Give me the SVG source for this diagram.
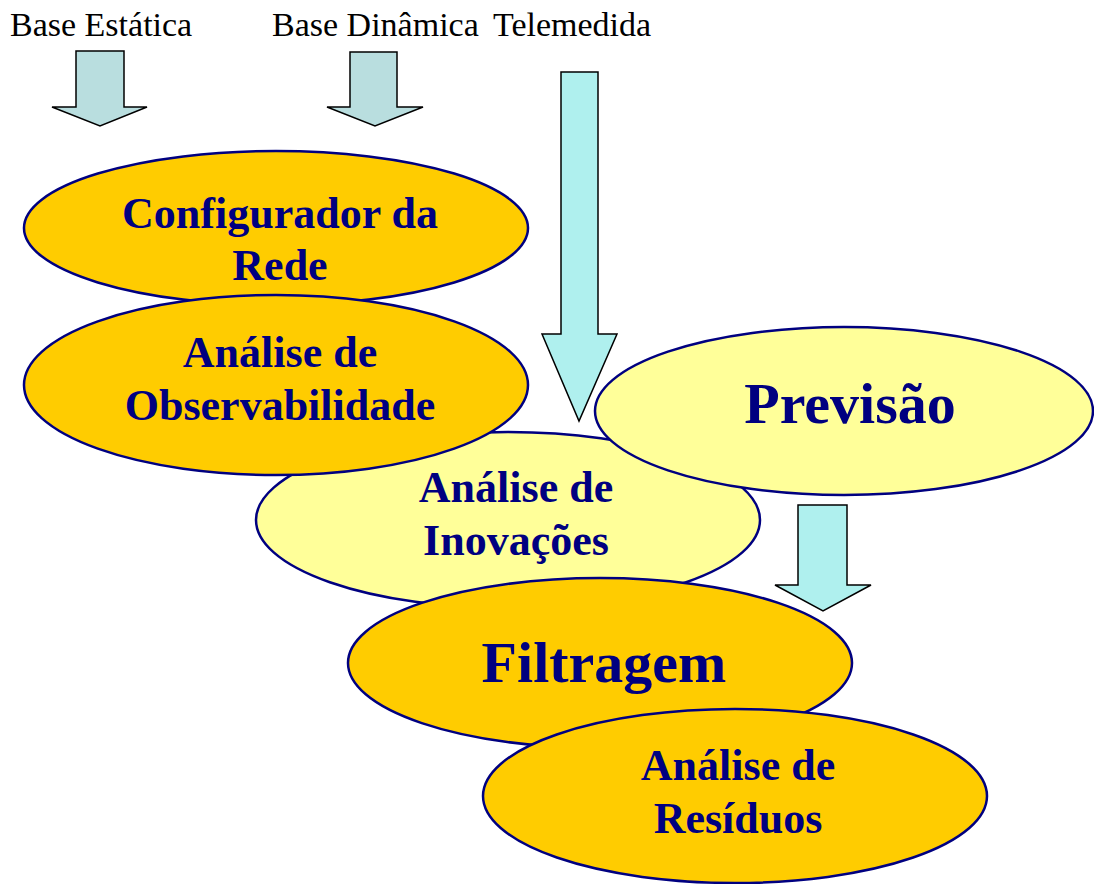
<svg xmlns="http://www.w3.org/2000/svg" width="1094" height="884" viewBox="0 0 1094 884">
<style>
.lbl{font-family:"Liberation Serif","Times New Roman",serif;font-size:34px;fill:#000000}
.ell{stroke:#000080;stroke-width:2.5}
.gold{fill:#FFCC00}
.pale{fill:#FFFF99}
.t{font-family:"Liberation Serif","Times New Roman",serif;font-weight:bold;fill:#000080;text-anchor:middle}
.t44{font-size:44px}
.t58{font-size:58px}
.arr{stroke:#000000;stroke-width:1.5;stroke-linejoin:miter}
.a1{fill:#B9DEDF}
.a2{fill:#AFF0EE}
</style>
<rect width="1094" height="884" fill="#FFFFFF"/>
<g id="labels">
<text class="lbl" x="10" y="36">Base Estática</text>
<text class="lbl" x="272" y="36">Base Dinâmica</text>
<text class="lbl" x="493" y="36">Telemedida</text>
</g>
<g id="connectors">
<polygon class="arr a1" points="76,51 124,51 124,107 147,107 100,126 52,107 76,107"/>
<polygon class="arr a1" points="350,52 397,52 397,107 423,107 375,126 327,107 350,107"/>
<polygon class="arr a2" points="561,72 598,72 598,334 617,334 579,421 542,334 561,334"/>
<polygon class="arr a2" points="798,505 847,505 847,585 871,585 823,611 775,585 798,585"/>
</g>
<g id="node-inovacoes">
<ellipse class="ell pale" cx="508" cy="520" rx="252" ry="88"/>
<text class="t t44" x="516" y="502">Análise de</text>
<text class="t t44" x="516" y="555">Inovações</text>
</g>
<g id="node-configurador">
<ellipse class="ell gold" cx="276" cy="228" rx="252" ry="77"/>
<text class="t t44" x="280" y="228">Configurador da</text>
<text class="t t44" x="280" y="280">Rede</text>
</g>
<g id="node-observabilidade">
<ellipse class="ell gold" cx="276" cy="385" rx="252" ry="90"/>
<text class="t t44" x="280" y="367">Análise de</text>
<text class="t t44" x="280" y="420">Observabilidade</text>
</g>
<g id="node-previsao">
<ellipse class="ell pale" cx="844" cy="411" rx="249" ry="84"/>
<text class="t t58" x="850" y="423">Previsão</text>
</g>
<g id="node-filtragem">
<ellipse class="ell gold" cx="600" cy="663" rx="252" ry="85"/>
<text class="t t58" x="604" y="682">Filtragem</text>
</g>
<g id="node-residuos">
<ellipse class="ell gold" cx="735" cy="796" rx="252" ry="87"/>
<text class="t t44" x="738" y="780">Análise de</text>
<text class="t t44" x="738" y="833">Resíduos</text>
</g>
</svg>
